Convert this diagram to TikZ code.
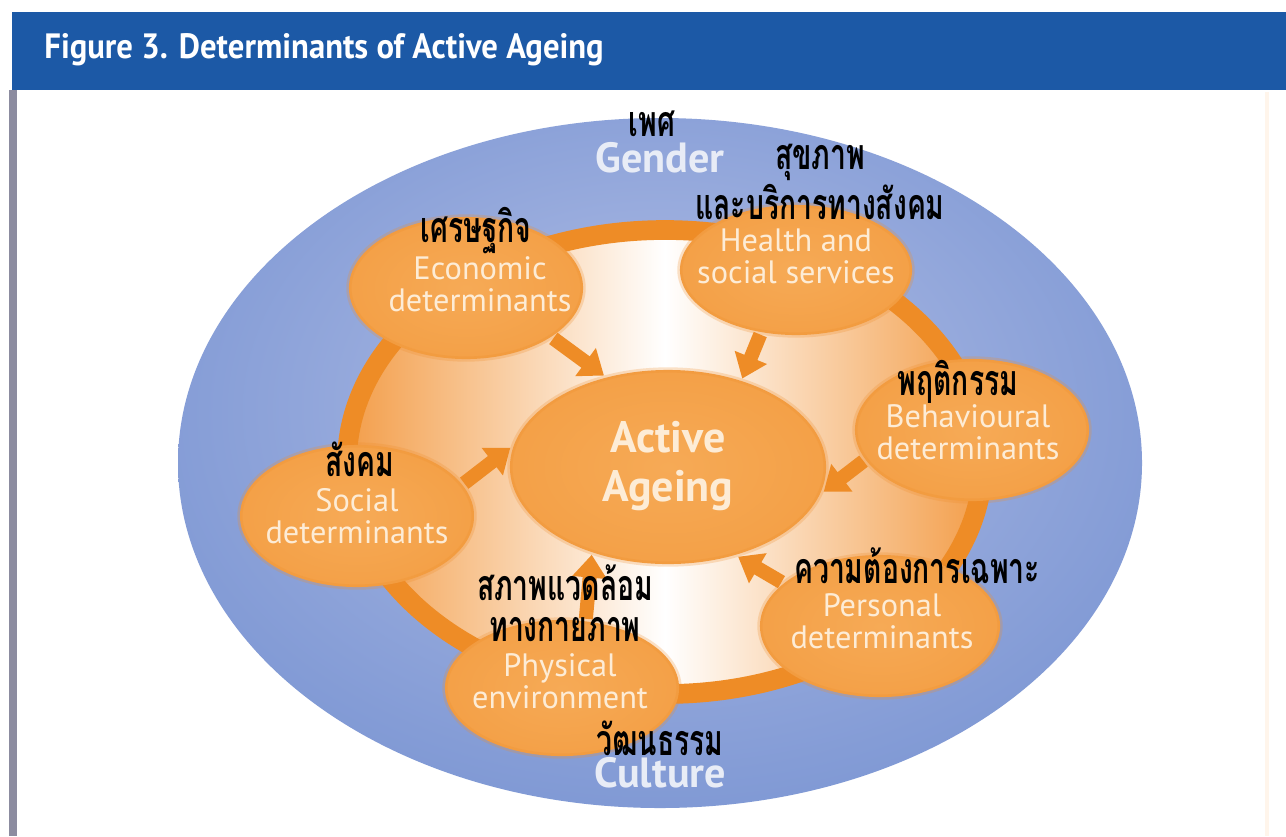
\documentclass[tikz,border=0pt]{standalone}
\usepackage{fontspec}
\setmainfont{PT Sans}
\newfontfamily\titlefont[FakeStretch=0.93]{PT Sans}
\newfontfamily\thaifont[Script=Thai,FakeStretch=0.66]{Loma}
\usetikzlibrary{shapes.geometric,arrows.meta,positioning}

\definecolor{barblue}{RGB}{28,89,166}
\definecolor{framegray}{RGB}{140,140,160}
\definecolor{bluein}{RGB}{176,189,229}
\definecolor{bluemid}{RGB}{132,156,214}
\definecolor{blueout}{RGB}{82,121,196}
\definecolor{ringorange}{RGB}{238,140,38}
\definecolor{orangein}{RGB}{246,170,86}
\definecolor{orangemid}{RGB}{243,157,66}
\definecolor{orangeout}{RGB}{239,142,44}
\definecolor{innerorange}{RGB}{243,158,74}
\definecolor{cream}{RGB}{253,236,214}
\definecolor{paleblue}{RGB}{232,236,246}

\pgfdeclareradialshading{blueglow}{\pgfpoint{0bp}{6bp}}{color(0bp)=(bluein); color(26bp)=(bluemid); color(58bp)=(blueout)}
\pgfdeclareradialshading{orangeglow}{\pgfpoint{0bp}{0bp}}{color(0bp)=(orangein); color(34bp)=(orangemid); color(50bp)=(orangeout)}

\tikzset{
  detshape/.style={ellipse, shading=orangeglow, minimum width=2.34cm, minimum height=1.42cm,
    draw=orangeout, line width=1.5pt, draw opacity=.25},
  entext/.style={text=cream, align=center, font=\fontsize{9.2}{9.1}\selectfont},
  thtext/.style={text=black, inner sep=0pt, font=\thaifont\bfseries\fontsize{12.2}{13}\selectfont},
  bigtext/.style={text=paleblue, font=\bfseries\fontsize{12}{12}\selectfont},
  feed/.style={draw=ringorange, line width=4pt, -{Triangle[width=9.5pt,length=6.5pt]}},
}

\begin{document}
\begin{tikzpicture}[x=0.01cm,y=-0.01cm]
\useasboundingbox (0,0) rectangle (1286,836);
\fill[white] (0,0) rectangle (1286,836);
% frame and title
\fill[barblue] (12,12) rectangle (1286,90);
\draw[line width=2pt, framegray] (13,90) -- (13,836);
\draw[line width=1pt, orange!8] (1267,92) -- (1267,836);
\node (title) [anchor=west, text=white, font=\titlefont\bfseries\fontsize{10}{12}\selectfont] at (32,50) {Figure 3. Determinants of Active Ageing};

% outer ellipse, inner field and ring
\path[shading=blueglow] (660,463) ellipse [x radius=482, y radius=345];
\fill[left color=innerorange, right color=innerorange, middle color=white] (665,462) ellipse [x radius=318, y radius=232];
\draw[ringorange, line width=5.6pt] (665,462) ellipse [x radius=318, y radius=232];

% determinants
\node[detshape] (econ) at (466,288) {};
\node[detshape, minimum width=2.32cm, minimum height=1.3cm] (health) at (796,270) {};
\node[detshape] (behav) at (972,430) {};
\node[detshape] (social) at (357,516) {};
\node[detshape, minimum width=2.4cm] (personal) at (880,626) {};
\node[detshape, minimum height=1.36cm] (physical) at (562,688) {};
\node[detshape, minimum width=3.16cm, minimum height=1.94cm] (active) at (668,467) {};

\path
(econ.-30) edge[feed] (active.125)
(health.241) edge[feed] (active.50)
(behav.196) edge[feed] (active.-9)
(social.17) edge[feed] (active.173)
(physical.71) edge[feed] (active.229)
(personal.156) edge[feed] (active.-52);

% English labels
\node[bigtext] (gender) at (660,158) {Gender};
\node[bigtext] (culture) at (660,773) {Culture};
\node[entext] (health-en) at (796,256) {Health and\\social services};
\node[entext] (econ-en) at (480,284) {Economic\\determinants};
\node[entext] (behav-en) at (968,432) {Behavioural\\determinants};
\node[entext] (social-en) at (357,516) {Social\\determinants};
\node[entext] (personal-en) at (882,621) {Personal\\determinants};
\node[entext] (physical-en) at (560,681) {Physical\\environment};
\node[entext, font=\bfseries\fontsize{12.5}{13.7}\selectfont] (active-en) at (668,466) {Active\\Ageing};

% Thai labels
\node[thtext] (gender-th) at (652,124) {เพศ};
\node[thtext] (health-th2) at (820,202) {และบริการทางสังคม};
\node[thtext] (health-th1) at (820,162) {สุขภาพ};
\node[thtext] (econ-th) at (476,231) {เศรษฐกิจ};
\node[thtext] (behav-th) at (958,382) {พฤติกรรม};
\node[thtext] (social-th) at (360,459) {สังคม};
\node[thtext] (physical-th1) at (565,583) {สภาพแวดล้อม};
\node[thtext] (physical-th2) at (565,630) {ทางกายภาพ};
\node[thtext] (personal-th) at (917,566) {ความต้องการเฉพาะ};
\node[thtext] (culture-th) at (660,738) {วัฒนธรรม};
\end{tikzpicture}
\end{document}
